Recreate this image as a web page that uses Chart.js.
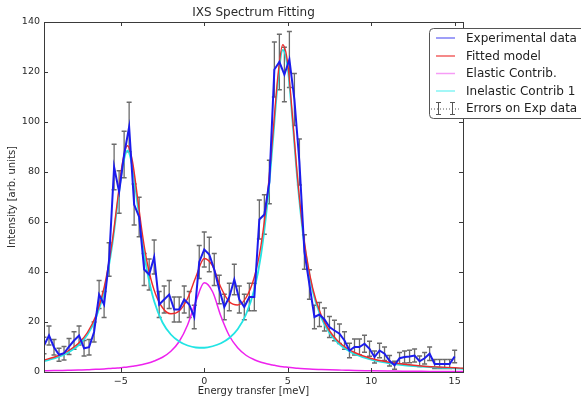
<!DOCTYPE html>
<html>
<head>
<meta charset="utf-8">
<script src="https://cdn.jsdelivr.net/npm/chart.js@4.4.0/dist/chart.umd.min.js"></script>
<style>
    body { margin: 0; background: #fff; }
    canvas { display: block; }
</style>
</head>
<body>
<canvas id="ixs-fit" width="581" height="401"></canvas>
<script>
// measured points (energy transfer in meV)
var energies = [-9.6, -9.3, -9.0, -8.7, -8.4, -8.1, -7.8, -7.5, -7.2, -6.9,
    -6.6, -6.3, -6.0, -5.7, -5.4, -5.1, -4.8, -4.5, -4.2, -3.9,
    -3.6, -3.3, -3.0, -2.7, -2.4, -2.1, -1.8, -1.5, -1.2, -0.9,
    -0.6, -0.3, 0, 0.3, 0.6, 0.9, 1.2, 1.5, 1.8, 2.1,
    2.4, 2.7, 3.0, 3.3, 3.6, 3.9, 4.2, 4.5, 4.8, 5.1,
    5.4, 5.7, 6.0, 6.3, 6.6, 6.9, 7.2, 7.5, 7.8, 8.1,
    8.4, 8.7, 9.0, 9.3, 9.6, 9.9, 10.2, 10.5, 10.8, 11.1,
    11.4, 11.7, 12.0, 12.3, 12.6, 12.9, 13.2, 13.5, 13.8, 14.1,
    14.4, 14.7, 15.0];
var expValues = [10.6, 14.6, 9.9, 6.9, 7.5, 10.2, 12.6, 14.6, 9.5, 9.9,
    16, 31, 27, 45, 82, 72, 87, 98, 67, 62,
    41, 39, 46, 27, 29, 31, 25, 25, 29, 27,
    22, 44, 49, 47, 41, 33, 26, 30, 37, 29,
    26, 30, 30, 61, 63, 76, 121, 124, 119, 125,
    109, 84, 48, 35, 22, 23, 21, 18, 16.6, 15.3,
    12.6, 8.6, 10, 10, 11.3, 9.3, 6, 8.6, 7.3, 4.5,
    2.7, 5.5, 6, 6.2, 6.6, 4.3, 5.5, 7.3, 3.2, 3.2,
    3.2, 3.2, 6.2];
var expErrors = [3.3, 3.8, 3.1, 2.6, 2.7, 3.2, 3.5, 3.8, 3.1, 3.1,
    4, 5.6, 5.2, 6.7, 9.1, 8.5, 9.3, 9.9, 8.2, 7.9,
    6.4, 6.2, 6.8, 5.2, 5.4, 5.6, 5, 5, 5.4, 5.2,
    4.7, 6.6, 7, 6.9, 6.4, 5.7, 5.1, 5.5, 6.1, 5.4,
    5.1, 5.5, 5.5, 7.8, 7.9, 8.7, 11, 11.1, 10.9, 11.2,
    10.4, 9.2, 6.9, 5.9, 4.7, 4.8, 4.6, 4.2, 4.1, 3.9,
    3.5, 2.9, 3.2, 3.2, 3.4, 3, 2.4, 2.9, 2.7, 2.1,
    1.6, 2.3, 2.4, 2.5, 2.6, 2.1, 2.3, 2.7, 1.8, 1.8,
    1.8, 1.8, 2.5];

// model curves
var modelEnergies = [-9.6, -9, -8.5, -8, -7.5, -7, -6.5, -6, -5.5, -5.2,
    -4.9, -4.6, -4.3, -4, -3.7, -3.4, -3, -2.5, -2, -1.5,
    -1, -0.5, 0, 0.5, 1, 1.5, 2, 2.5, 3, 3.4,
    3.8, 4.1, 4.4, 4.7, 5, 5.3, 5.6, 6, 6.5, 7,
    7.5, 8, 8.5, 9, 10, 11, 12, 13, 14, 15, 15.5];
var fitValues = [4.8, 5.9, 7.2, 9.1, 11.7, 15.8, 22.4, 33.7, 52.8, 68.5,
    83.6, 90.5, 84.2, 69.9, 54.9, 43.1, 32.7, 25.7, 23.3, 24.4,
    29.4, 38.1, 45.4, 42.4, 33.8, 28.1, 26.8, 29.7, 38.0, 50.7,
    71.8, 94.0, 117.6, 130.9, 123.4, 101.0, 76.7, 52.1, 33.4, 22.8,
    16.5, 12.4, 9.7, 7.8, 5.4, 4.0, 3.1, 2.4, 2.0, 1.7, 1.5];
var elasticValues = [0.5, 0.6, 0.6, 0.7, 0.8, 0.9, 1.1, 1.2, 1.5, 1.6,
    1.8, 2.0, 2.3, 2.6, 3.0, 3.5, 4.4, 5.9, 8.3, 12.2,
    18.8, 28.3, 35.7, 32.1, 22.3, 14.5, 9.7, 6.7, 4.9, 3.9,
    3.2, 2.8, 2.4, 2.1, 1.9, 1.7, 1.5, 1.3, 1.1, 1.0,
    0.9, 0.8, 0.7, 0.6, 0.5, 0.4, 0.3, 0.3, 0.2, 0.2, 0.2];
var inelasticValues = [4.3, 5.4, 6.6, 8.4, 10.9, 14.9, 21.4, 32.4, 51.4, 66.9,
    81.8, 88.5, 81.9, 67.3, 51.9, 39.6, 28.3, 19.8, 15.0, 12.2,
    10.6, 9.8, 9.7, 10.3, 11.5, 13.6, 17.1, 23.0, 33.1, 46.8,
    68.6, 91.3, 115.2, 128.8, 121.5, 99.3, 75.2, 50.8, 32.3, 21.8,
    15.6, 11.7, 9.1, 7.2, 4.9, 3.6, 2.7, 2.2, 1.8, 1.5, 1.3];

var xTicks = [-5, 0, 5, 10, 15];
var yTicks = [0, 20, 40, 60, 80, 100, 120, 140];
var legendLabels = ['Experimental data', 'Fitted model', 'Elastic Contrib.', 'Inelastic Contrib 1', 'Errors on Exp data'];
var legendColors = ['#7f7ff6', '#f26262', '#f69cf6', '#84f4f4'];
var chartTitle = 'IXS Spectrum Fitting';

var FONT = "'DejaVu Sans', sans-serif";

function toPoints(xs, ys) {
    return xs.map(function (v, i) { return { x: v, y: ys[i] }; });
}

function tickText(v) {
    return v < 0 ? '\u2212' + Math.abs(v) : String(v);
}

// error bars drawn below the curves
var errorBars = {
    id: 'errorBars',
    beforeDatasetsDraw: function (chart) {
        var ctx = chart.ctx, sx = chart.scales.x, sy = chart.scales.y, a = chart.chartArea;
        ctx.save();
        ctx.beginPath();
        ctx.rect(a.left, a.top, a.right - a.left, a.bottom - a.top);
        ctx.clip();
        ctx.strokeStyle = '#6b6b6b';
        ctx.lineWidth = 1.3;
        for (var i = 0; i < energies.length; i++) {
            var px = sx.getPixelForValue(energies[i]);
            var top = sy.getPixelForValue(expValues[i] + expErrors[i]);
            var bot = sy.getPixelForValue(expValues[i] - expErrors[i]);
            ctx.beginPath();
            ctx.moveTo(px, top); ctx.lineTo(px, bot);
            ctx.moveTo(px - 2.5, top); ctx.lineTo(px + 2.5, top);
            ctx.moveTo(px - 2.5, bot); ctx.lineTo(px + 2.5, bot);
            ctx.stroke();
        }
        ctx.restore();
    }
};

// matplotlib like frame, inward ticks, title and legend box
var decorations = {
    id: 'decorations',
    afterDraw: function (chart) {
        var ctx = chart.ctx, sx = chart.scales.x, sy = chart.scales.y, a = chart.chartArea;
        ctx.save();
        ctx.strokeStyle = '#3a3a3a';
        ctx.lineWidth = 1;
        ctx.strokeRect(Math.round(a.left) + 0.5, Math.round(a.top) + 0.5,
            Math.round(a.right - a.left), Math.round(a.bottom - a.top));
        ctx.beginPath();
        xTicks.forEach(function (v) {
            var px = Math.round(sx.getPixelForValue(v)) + 0.5;
            ctx.moveTo(px, a.bottom); ctx.lineTo(px, a.bottom - 4);
            ctx.moveTo(px, a.top); ctx.lineTo(px, a.top + 4);
        });
        yTicks.forEach(function (v) {
            var py = Math.round(sy.getPixelForValue(v)) + 0.5;
            ctx.moveTo(a.left, py); ctx.lineTo(a.left + 4, py);
            ctx.moveTo(a.right, py); ctx.lineTo(a.right - 4, py);
        });
        ctx.stroke();

        // title
        ctx.fillStyle = '#2a2a2a';
        ctx.font = '12px ' + FONT;
        ctx.textAlign = 'center';
        ctx.textBaseline = 'middle';
        ctx.fillText(chartTitle, (a.left + a.right) / 2, 13);

        // legend
        var bx = 429.5, by = 28.5, bw = 200, bh = 90;
        ctx.beginPath();
        ctx.roundRect(bx, by, bw, bh, 4);
        ctx.fillStyle = '#fff';
        ctx.fill();
        ctx.strokeStyle = '#555';
        ctx.stroke();
        var rows = [38, 56, 73.5, 91, 108.5];
        ctx.lineWidth = 1.5;
        for (var i = 0; i < 4; i++) {
            ctx.strokeStyle = legendColors[i];
            ctx.beginPath();
            ctx.moveTo(436, rows[i]); ctx.lineTo(455, rows[i]);
            ctx.stroke();
        }
        // errorbar sample
        var ry = rows[4];
        ctx.strokeStyle = '#555';
        ctx.lineWidth = 1;
        ctx.setLineDash([1, 2]);
        ctx.beginPath();
        ctx.moveTo(431, ry + 0.5); ctx.lineTo(460, ry + 0.5);
        ctx.stroke();
        ctx.setLineDash([]);
        [438, 452].forEach(function (ex) {
            ctx.beginPath();
            ctx.moveTo(ex + 0.5, ry - 6); ctx.lineTo(ex + 0.5, ry + 6);
            ctx.moveTo(ex - 2, ry - 6); ctx.lineTo(ex + 3, ry - 6);
            ctx.moveTo(ex - 2, ry + 6); ctx.lineTo(ex + 3, ry + 6);
            ctx.stroke();
        });
        ctx.fillStyle = '#222';
        ctx.font = '12px ' + FONT;
        ctx.textAlign = 'left';
        legendLabels.forEach(function (t, k) {
            ctx.fillText(t, 466, rows[k] + 0.5);
        });
        ctx.restore();
    }
};

var ctx = document.getElementById('ixs-fit').getContext('2d');
var chart = new Chart(ctx, {
    type: 'line',
    data: {
        datasets: [{
            label: legendLabels[0],
            data: toPoints(energies, expValues),
            borderColor: '#1c1cec',
            borderWidth: 2,
            pointRadius: 0,
            tension: 0
        }, {
            label: legendLabels[1],
            data: toPoints(modelEnergies, fitValues),
            borderColor: '#ee2b2b',
            borderWidth: 1.4,
            pointRadius: 0,
            cubicInterpolationMode: 'monotone'
        }, {
            label: legendLabels[3],
            data: toPoints(modelEnergies, inelasticValues),
            borderColor: '#22e4e4',
            borderWidth: 1.8,
            pointRadius: 0,
            cubicInterpolationMode: 'monotone'
        }, {
            label: legendLabels[2],
            data: toPoints(modelEnergies, elasticValues),
            borderColor: '#ee22ee',
            borderWidth: 1.5,
            pointRadius: 0,
            cubicInterpolationMode: 'monotone'
        }]
    },
    options: {
        responsive: false,
        animation: false,
        devicePixelRatio: 1,
        layout: { padding: { top: 22, right: 118, left: 0, bottom: 0 } },
        plugins: {
            legend: { display: false },
            title: { display: false },
            tooltip: { enabled: false }
        },
        scales: {
            x: {
                type: 'linear',
                min: -9.6,
                max: 15.5,
                afterBuildTicks: function (s) { s.ticks = xTicks.map(function (v) { return { value: v }; }); },
                afterFit: function (s) { s.height = 29; },
                grid: { display: false, drawTicks: false },
                border: { display: false },
                ticks: {
                    font: { family: FONT, size: 9.5 },
                    color: '#2a2a2a',
                    padding: 4,
                    maxRotation: 0,
                    callback: tickText
                },
                title: {
                    display: true,
                    text: 'Energy transfer [meV]',
                    font: { family: FONT, size: 10 },
                    color: '#2a2a2a',
                    padding: { top: 0, bottom: 4 }
                }
            },
            y: {
                type: 'linear',
                min: 0,
                max: 140,
                afterBuildTicks: function (s) { s.ticks = yTicks.map(function (v) { return { value: v }; }); },
                afterFit: function (s) { s.width = 44; },
                grid: { display: false, drawTicks: false },
                border: { display: false },
                ticks: {
                    font: { family: FONT, size: 9.5 },
                    color: '#2a2a2a',
                    padding: 4,
                    callback: tickText
                },
                title: {
                    display: true,
                    text: 'Intensity [arb. units]',
                    font: { family: FONT, size: 10 },
                    color: '#2a2a2a',
                    padding: { top: 6, bottom: 0 }
                }
            }
        }
    },
    plugins: [errorBars, decorations]
});
</script>
</body>
</html>
